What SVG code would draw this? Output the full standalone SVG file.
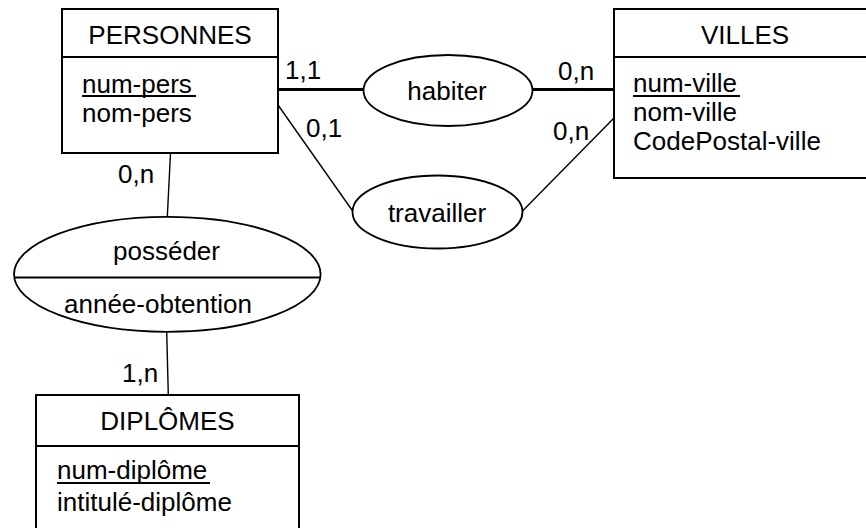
<svg xmlns="http://www.w3.org/2000/svg" width="866" height="528" viewBox="0 0 866 528">
<style>
text{font-family:"Liberation Sans",Arial,sans-serif;font-size:26px;fill:#000}
.box{fill:#fff;stroke:#000;stroke-width:2}
.div{stroke:#000;stroke-width:2}
.ell{fill:#fff;stroke:#000;stroke-width:1.8}
.thin{stroke:#000;stroke-width:1.4;fill:none}
.thick{stroke:#000;stroke-width:3;fill:none}
.ul{stroke:#000;stroke-width:2}
.c{text-anchor:middle}
</style>
<rect width="866" height="528" fill="#fff"/>
<g id="connectors">
<line class="thick" x1="278" y1="89.5" x2="364" y2="89.5"/>
<line class="thick" x1="532" y1="89.5" x2="614" y2="89.5"/>
<line class="thin" x1="278" y1="105" x2="353" y2="211.5"/>
<line class="thin" x1="614" y1="118" x2="522" y2="211.5"/>
<line class="thin" x1="170.5" y1="153" x2="167.3" y2="217"/>
<line class="thin" x1="166.7" y1="331.5" x2="168.3" y2="395"/>
<text x="285" y="79">1,1</text>
<text x="558" y="80">0,n</text>
<text x="306" y="137">0,1</text>
<text x="553" y="140">0,n</text>
<text x="118" y="183">0,n</text>
<text x="122" y="382">1,n</text>
</g>
<g id="personnes">
<rect class="box" x="62" y="9" width="216" height="144"/>
<line class="div" x1="62" y1="57" x2="278" y2="57"/>
<text class="c" x="170" y="44">PERSONNES</text>
<text x="82" y="93">num-pers</text>
<line class="ul" x1="82" y1="96" x2="196" y2="96"/>
<text x="82" y="122">nom-pers</text>
</g>
<g id="villes">
<rect class="box" x="614" y="9" width="270" height="169"/>
<line class="div" x1="614" y1="57" x2="884" y2="57"/>
<text class="c" x="745" y="44">VILLES</text>
<text x="633" y="92">num-ville</text>
<line class="ul" x1="633" y1="96" x2="740" y2="96"/>
<text x="633" y="121">nom-ville</text>
<text x="633" y="150">CodePostal-ville</text>
</g>
<g id="habiter">
<ellipse class="ell" cx="448" cy="90.5" rx="84.5" ry="35.5"/>
<text class="c" x="447" y="100">habiter</text>
</g>
<g id="travailler">
<ellipse class="ell" cx="437.5" cy="212" rx="85" ry="36.5"/>
<text class="c" x="437" y="222">travailler</text>
</g>
<g id="posseder">
<ellipse class="ell" cx="167.3" cy="274.3" rx="153.3" ry="57.5"/>
<line class="div" x1="14" y1="277.5" x2="320.6" y2="277.5"/>
<text class="c" x="166.5" y="260">posséder</text>
<text class="c" x="158" y="313">année-obtention</text>
</g>
<g id="diplomes">
<rect class="box" x="36" y="395" width="263" height="150"/>
<line class="div" x1="36" y1="446" x2="299" y2="446"/>
<text class="c" x="167.5" y="430">DIPLÔMES</text>
<text x="57" y="479">num-diplôme</text>
<line class="ul" x1="57" y1="483" x2="210" y2="483"/>
<text x="57" y="511">intitulé-diplôme</text>
</g>
</svg>
